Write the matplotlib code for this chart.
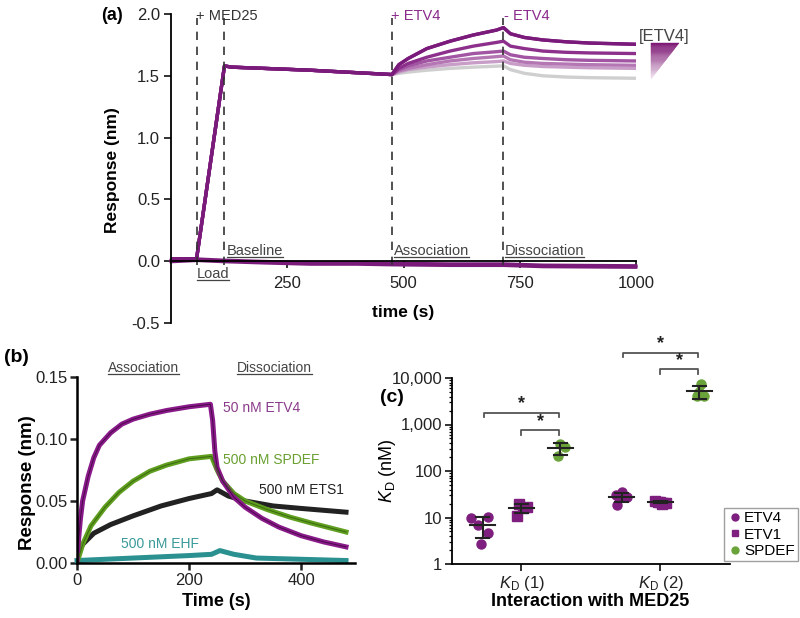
import numpy as np
import matplotlib
matplotlib.use('Agg')
from matplotlib import pyplot as plt
from matplotlib.lines import Line2D
from matplotlib.patches import Polygon

plt.rcParams['font.family'] = ['Liberation Sans', 'DejaVu Sans']
plt.rcParams['mathtext.fontset'] = 'custom'
plt.rcParams['mathtext.rm'] = 'Liberation Sans'
plt.rcParams['mathtext.it'] = 'Liberation Sans:italic'

# ---- panel (a): MED25 load + ETV4 titration ----
load_t = [0, 55, 115, 130, 200, 300, 400, 475]
load_r = [0.02, 0.02, 1.58, 1.57, 1.56, 1.545, 1.525, 1.51]
assoc_t = [475, 490, 510, 550, 600, 650, 700, 715]
dissoc_t = [715, 730, 760, 800, 850, 900, 1000]
assoc_r = [
    [1.51, 1.59, 1.64, 1.72, 1.78, 1.83, 1.87, 1.89],
    [1.51, 1.56, 1.60, 1.65, 1.70, 1.74, 1.77, 1.78],
    [1.51, 1.55, 1.58, 1.62, 1.65, 1.68, 1.695, 1.70],
    [1.51, 1.54, 1.56, 1.59, 1.62, 1.64, 1.655, 1.66],
    [1.51, 1.53, 1.55, 1.57, 1.59, 1.605, 1.615, 1.62],
    [1.51, 1.52, 1.53, 1.545, 1.56, 1.57, 1.578, 1.58],
]
dissoc_r = [
    [1.89, 1.84, 1.81, 1.79, 1.775, 1.765, 1.755],
    [1.78, 1.74, 1.72, 1.70, 1.69, 1.685, 1.68],
    [1.70, 1.67, 1.65, 1.64, 1.63, 1.625, 1.62],
    [1.66, 1.63, 1.61, 1.60, 1.595, 1.59, 1.585],
    [1.62, 1.60, 1.585, 1.575, 1.57, 1.565, 1.56],
    [1.58, 1.55, 1.52, 1.50, 1.49, 1.485, 1.48],
]
trace_colors = ['#7a1a7a', '#8c308c', '#a255a2', '#b477b4', '#c89ec8', '#cfcfcf']
ref_t = [0, 55, 115, 200, 300, 400, 475, 600, 715, 800, 1000]
ref_r = [0.01, 0.02, 0.01, 0.0, -0.01, -0.01, -0.015, -0.02, -0.02, -0.03, -0.035]
step_t = [55, 115, 475, 715]

# ---- panel (b): single-concentration sensorgrams ----
etv4_t = [0, 3, 6, 10, 20, 30, 40, 60, 80, 100, 130, 160, 200, 238, 242, 246, 250, 260, 280, 300, 330, 360, 400, 440, 480]
etv4_r = [0.0, 0.02, 0.035, 0.05, 0.07, 0.085, 0.095, 0.105, 0.112, 0.116, 0.12, 0.123, 0.126, 0.128, 0.115, 0.09, 0.077, 0.066, 0.053, 0.045, 0.036, 0.029, 0.022, 0.017, 0.013]
spdef_t = [0, 10, 25, 50, 75, 100, 130, 160, 200, 240, 250, 260, 280, 300, 340, 380, 420, 480]
spdef_r = [0.0, 0.015, 0.03, 0.045, 0.057, 0.066, 0.074, 0.079, 0.084, 0.086, 0.075, 0.066, 0.056, 0.05, 0.043, 0.037, 0.032, 0.025]
ets1_t = [0, 10, 30, 60, 100, 150, 200, 240, 250, 270, 300, 350, 400, 480]
ets1_r = [0.005, 0.015, 0.024, 0.031, 0.038, 0.046, 0.052, 0.056, 0.059, 0.054, 0.05, 0.046, 0.044, 0.041]
ehf_t = [0, 100, 200, 240, 255, 280, 320, 400, 480]
ehf_r = [0.002, 0.004, 0.006, 0.007, 0.01, 0.007, 0.004, 0.003, 0.002]

# ---- panel (c): KD values (nM) ----
kd_ticks = ['$\\mathit{K}_\\mathrm{D}$ (1)', '$\\mathit{K}_\\mathrm{D}$ (2)']
kd1_etv4 = [9.8, 10.3, 6.9, 4.6, 2.7]
kd1_etv1 = [20, 17, 16, 11]
kd1_spdef = [390, 330, 210]
kd2_etv4 = [35, 31, 28, 26, 19]
kd2_etv1 = [23, 22, 21.5, 21, 20.5, 20]
kd2_spdef = [7600, 4100, 4200, 5000]

W, H = 800, 618
fig = plt.figure(figsize=(8, 6.18), dpi=100)


def px_axes(l, t, r, b):
    return fig.add_axes([l / W, 1 - b / H, (r - l) / W, (b - t) / H])


def fx(x):
    return x / W


def fy(y):
    return 1 - y / H


# ================= (a) =================
ax = px_axes(171, 14, 636, 323)
for i in range(len(assoc_r) - 1, -1, -1):
    t = load_t + assoc_t[1:] + dissoc_t[1:]
    r = load_r + assoc_r[i][1:] + dissoc_r[i][1:]
    ax.plot(t, r, color=trace_colors[i], lw=2.4, solid_joinstyle='round')
ax.plot(load_t + assoc_t[1:] + dissoc_t[1:], load_r + assoc_r[0][1:] + dissoc_r[0][1:],
        color=trace_colors[0], lw=2.4)
for k in range(3):
    ax.plot(ref_t, [v - 0.008 * k for v in ref_r], color='#7a1a7a', lw=2.0, clip_on=False)
for s in step_t:
    ax.plot([s, s], [-0.03, 1.97], color='#333333', lw=1.2, ls=(0, (5, 4)))
ax.set_xlim(0, 1000)
ax.set_ylim(-0.5, 2.0)
ax.spines['top'].set_visible(False)
ax.spines['right'].set_visible(False)
ax.spines['bottom'].set_position(('data', 0))
ax.spines['left'].set_linewidth(1.3)
ax.spines['bottom'].set_linewidth(1.3)
ax.set_xticks([250, 500, 750, 1000])
ax.set_yticks([-0.5, 0.0, 0.5, 1.0, 1.5, 2.0])
ax.set_yticklabels(['-0.5', '0.0', '0.5', '1.0', '1.5', '2.0'])
ax.tick_params(labelsize=12, length=5, width=1.3, colors='#222222', pad=3)
ax.tick_params(axis='x', pad=6)

ax.text(53, 1.98, '+ MED25', fontsize=10.5, color='#333333', va='center', ha='left')
ax.text(473, 1.98, '+ ETV4', fontsize=10.5, color='#8a2a8a', va='center', ha='left')
ax.text(717, 1.98, '- ETV4', fontsize=10.5, color='#8a2a8a', va='center', ha='left')
ax.text(1007, 1.82, '[ETV4]', fontsize=12, color='#444444', va='center', ha='left', clip_on=False)

under = []
under.append(ax.text(55, -0.105, 'Load', fontsize=10.5, color='#444444', va='center', ha='left'))
under.append(ax.text(120, 0.085, 'Baseline', fontsize=10.5, color='#444444', va='center', ha='left'))
under.append(ax.text(480, 0.085, 'Association', fontsize=10.5, color='#444444', va='center', ha='left'))
under.append(ax.text(718, 0.085, 'Dissociation', fontsize=10.5, color='#444444', va='center', ha='left'))

fig.text(fx(112), fy(15), '(a)', fontsize=13, fontweight='bold', ha='center', va='center')
fig.text(fx(113), fy(170), 'Response (nm)', fontsize=12.5, fontweight='bold', rotation=90,
         ha='center', va='center')
fig.text(fx(403), fy(313), 'time (s)', fontsize=12.5, fontweight='bold', ha='center', va='center')

# gradient wedge
top_c = np.array(matplotlib.colors.to_rgb('#7a1070'))
bot_c = np.array(matplotlib.colors.to_rgb('#f4eaf4'))
x0, x1, y0, y1 = 651, 679, 43, 79
n = 40
for k in range(n):
    f0 = k / n
    f1 = (k + 1) / n
    ya, yb = y0 + (y1 - y0) * f0, y0 + (y1 - y0) * f1
    xa, xb = x1 - (x1 - x0) * f0, x1 - (x1 - x0) * f1
    col = top_c + (bot_c - top_c) * f0
    fig.add_artist(Polygon([(fx(x0), fy(ya)), (fx(xa), fy(ya)), (fx(xb), fy(yb)), (fx(x0), fy(yb))],
                           closed=True, facecolor=col, edgecolor=col, lw=0.3,
                           transform=fig.transFigure))

# ================= (b) =================
bx = px_axes(77, 377, 355, 563)
bx.plot(ehf_t, ehf_r, color='#2a9090', lw=3.6, clip_on=False)
bx.plot(ets1_t, ets1_r, color='#222222', lw=3.6)
bx.plot(spdef_t, spdef_r, color='#5f9e1e', lw=3.6)
bx.plot(etv4_t, etv4_r, color='#8a1a8a', lw=3.6)
bx.plot(spdef_t, spdef_r, color='#3a6a10', lw=0.7)
bx.plot(etv4_t, etv4_r, color='#4a0a4a', lw=0.7)
bx.set_xlim(0, 496)
bx.set_ylim(0, 0.15)
for side in ['top', 'right']:
    bx.spines[side].set_visible(False)
for side in ['left', 'bottom']:
    bx.spines[side].set_linewidth(1.8)
bx.set_xticks([0, 200, 400])
bx.set_yticks([0.0, 0.05, 0.10, 0.15])
bx.set_yticklabels(['0.00', '0.05', '0.10', '0.15'])
bx.tick_params(labelsize=12, length=5, width=1.8, colors='#222222', pad=2)

bx.text(260, 0.125, '50 nM ETV4', fontsize=10, color='#8a3a8a', va='center', ha='left')
bx.text(260, 0.083, '500 nM SPDEF', fontsize=10, color='#6aa030', va='center', ha='left')
bx.text(325, 0.059, '500 nM ETS1', fontsize=10, color='#222222', va='center', ha='left')
bx.text(78, 0.015, '500 nM EHF', fontsize=10, color='#3a9a9a', va='center', ha='left')
under.append(bx.text(118, 0.157, 'Association', fontsize=10, color='#444444', va='center',
                     ha='center', clip_on=False))
under.append(bx.text(352, 0.157, 'Dissociation', fontsize=10, color='#444444', va='center',
                     ha='center', clip_on=False))

fig.text(fx(16), fy(358), '(b)', fontsize=14, fontweight='bold', ha='center', va='center')
fig.text(fx(27), fy(483), 'Response (nm)', fontsize=13.5, fontweight='bold', rotation=90,
         ha='center', va='center')
fig.text(fx(216), fy(601), 'Time (s)', fontsize=13, fontweight='bold', ha='center', va='center')

# ================= (c) =================
cx = px_axes(452, 378, 730, 564)
purple = '#7e1e7e'
green = '#6aa33a'
groups = [
    (0, -0.28, kd1_etv4, 'o', purple, [-0.08, 0.04, -0.03, 0.04, -0.01]),
    (0, 0.0, kd1_etv1, 's', purple, [-0.02, 0.04, 0.01, -0.03]),
    (0, 0.28, kd1_spdef, 'o', green, [0.0, 0.03, -0.02]),
    (1, -0.28, kd2_etv4, 'o', purple, [0.0, -0.04, 0.04, -0.02, -0.03]),
    (1, 0.0, kd2_etv1, 's', purple, [-0.04, -0.02, 0.0, 0.02, 0.04, 0.01]),
    (1, 0.28, kd2_spdef, 'o', green, [0.01, -0.02, 0.03, 0.0]),
]
for cat, off, vals, mk, col, jit in groups:
    xs = [cat + off + j for j in jit]
    cx.plot(xs, vals, ls='none', marker=mk, ms=6.5, color=col, mec=col)
    m = np.mean(vals)
    sd = np.std(vals, ddof=1)
    c0 = cat + off
    cx.plot([c0 - 0.09, c0 + 0.09], [m, m], color='#222222', lw=1.5)
    cx.plot([c0, c0], [m - sd, m + sd], color='#222222', lw=1.5)
    cx.plot([c0 - 0.045, c0 + 0.045], [m - sd, m - sd], color='#222222', lw=1.5)
    cx.plot([c0 - 0.045, c0 + 0.045], [m + sd, m + sd], color='#222222', lw=1.5)

brackets = [(0, -0.27, 0.27, 1780), (0, 0.0, 0.27, 760), (1, -0.27, 0.27, 34700), (1, 0.0, 0.27, 15500)]
for cat, a, b, yv in brackets:
    cx.plot([cat + a, cat + a, cat + b, cat + b], [yv * 0.8, yv, yv, yv * 0.8], color='#555555',
            lw=1.3, clip_on=False)
    cx.text(cat + (a + b) / 2, yv * 1.02, '*', fontsize=13, fontweight='bold', ha='center',
            va='bottom', color='#222222', clip_on=False)

cx.set_yscale('log')
cx.set_ylim(1, 10000)
cx.set_xlim(-0.5, 1.5)
cx.set_yticks([1, 10, 100, 1000, 10000])
cx.set_yticklabels(['1', '10', '100', '1,000', '10,000'])
cx.set_xticks([0, 1])
cx.set_xticklabels(kd_ticks)
for side in ['top', 'right']:
    cx.spines[side].set_visible(False)
for side in ['left', 'bottom']:
    cx.spines[side].set_linewidth(1.3)
cx.tick_params(labelsize=12, length=5, width=1.3, colors='#222222', pad=2)
cx.tick_params(which='minor', length=2.5, width=0.9)

fig.text(fx(392), fy(397), '(c)', fontsize=14, fontweight='bold', ha='center', va='center')
fig.text(fx(388), fy(471), '$\\mathit{K}_\\mathrm{D}$ (nM)', fontsize=13, rotation=90,
         ha='center', va='center')
fig.text(fx(590), fy(602), 'Interaction with MED25', fontsize=13, fontweight='bold',
         ha='center', va='center')

handles = [
    Line2D([], [], ls='none', marker='o', ms=5, color=purple, label='ETV4'),
    Line2D([], [], ls='none', marker='s', ms=5, color=purple, label='ETV1'),
    Line2D([], [], ls='none', marker='o', ms=5, color=green, label='SPDEF'),
]
fig.legend(handles=handles, loc='lower left', bbox_to_anchor=(fx(724), fy(561)),
           bbox_transform=fig.transFigure, fontsize=11, frameon=True, fancybox=False,
           edgecolor='#888888', handletextpad=0.1, handlelength=1.0, borderpad=0.2,
           labelspacing=0.15, borderaxespad=0)

# underline the phase labels
fig.canvas.draw()
rend = fig.canvas.get_renderer()
inv = fig.transFigure.inverted()
for t in under:
    bb = t.get_window_extent(rend)
    (xa, ya), (xb, _) = inv.transform([(bb.x0, bb.y0 + 1), (bb.x1, bb.y0 + 1)])
    fig.add_artist(Line2D([xa, xb], [ya, ya], color=t.get_color(), lw=0.9,
                          transform=fig.transFigure))

fig.savefig('out.png', dpi=100)
